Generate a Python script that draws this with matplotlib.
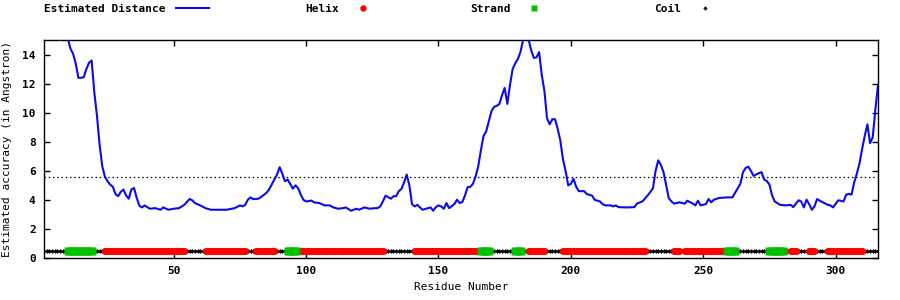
import matplotlib
matplotlib.use("Agg")
import matplotlib.pyplot as plt
from matplotlib.lines import Line2D
import numpy as np

# estimated distance per residue
residue = [1, 4, 7, 9, 10, 11, 12, 13, 14, 15, 16, 17, 18, 19, 20, 21, 22, 23, 24, 25,
           26, 27, 28, 29, 30, 31, 32, 33, 34, 35, 36, 37, 38, 39, 41, 43, 45, 46, 48, 50,
           52, 54, 56, 57, 58, 60, 62, 64, 66, 70, 73, 75, 76, 77, 78, 79, 80, 82, 83, 85,
           86, 87, 88, 89, 90, 91, 92, 93, 94, 95, 96, 97, 98, 99, 100, 102, 103, 105, 107, 109,
           110, 112, 114, 115, 117, 119, 120, 122, 124, 126, 127, 128, 129, 130, 132, 133, 134, 135, 136, 137,
           138, 139, 140, 141, 142, 143, 144, 146, 147, 148, 149, 150, 151, 152, 153, 154, 156, 157, 158, 159,
           160, 161, 162, 163, 164, 165, 166, 167, 168, 169, 170, 171, 172, 173, 174, 175, 176, 177, 178, 179,
           180, 181, 182, 183, 184, 185, 186, 187, 188, 189, 190, 191, 192, 193, 194, 195, 196, 197, 198, 199,
           200, 201, 202, 203, 205, 206, 208, 209, 211, 212, 213, 215, 216, 217, 218, 221, 224, 225, 227, 229,
           231, 232, 233, 234, 235, 236, 237, 238, 239, 241, 243, 244, 246, 247, 248, 249, 251, 252, 253, 254,
           256, 259, 261, 263, 264, 265, 266, 267, 268, 269, 270, 272, 273, 274, 275, 276, 277, 279, 281, 283,
           284, 286, 287, 288, 289, 290, 291, 292, 293, 294, 295, 297, 298, 299, 301, 303, 304, 305, 306, 307,
           308, 309, 310, 311, 312, 313, 314, 315, 316]
distance = [16.5, 15.8, 15.0, 15.6, 15.1, 14.4, 14.05, 13.36, 12.4, 12.4, 12.44, 13.0, 13.43, 13.59, 11.4, 9.8, 7.8, 6.32, 5.6, 5.28,
            5.05, 4.9, 4.4, 4.25, 4.55, 4.71, 4.3, 4.08, 4.71, 4.82, 4.15, 3.6, 3.48, 3.62, 3.39, 3.43, 3.32, 3.48, 3.32, 3.39,
            3.43, 3.66, 4.06, 3.97, 3.78, 3.62, 3.43, 3.32, 3.32, 3.32, 3.43, 3.62, 3.55, 3.66, 4.01, 4.17, 4.05, 4.08, 4.2, 4.48,
            4.71, 5.05, 5.4, 5.74, 6.25, 5.8, 5.28, 5.4, 5.1, 4.77, 5.0, 4.8, 4.35, 4.0, 3.89, 3.95, 3.83, 3.78, 3.62, 3.62,
            3.5, 3.39, 3.43, 3.48, 3.25, 3.39, 3.32, 3.48, 3.39, 3.43, 3.43, 3.55, 3.89, 4.29, 4.08, 4.25, 4.25, 4.6, 4.75, 5.2,
            5.74, 5.0, 3.7, 3.55, 3.66, 3.48, 3.32, 3.43, 3.48, 3.25, 3.5, 3.62, 3.55, 3.39, 3.78, 3.43, 3.71, 4.01, 3.78, 3.85,
            4.3, 4.87, 4.9, 5.1, 5.6, 6.3, 7.4, 8.4, 8.7, 9.4, 10.1, 10.4, 10.47, 10.6, 11.2, 11.7, 10.6, 11.9, 13.0, 13.4,
            13.7, 14.2, 15.05, 15.3, 15.05, 14.3, 13.77, 13.8, 14.17, 12.6, 11.5, 9.6, 9.2, 9.55, 9.55, 8.9, 8.1, 6.8, 6.0, 5.0,
            5.1, 5.45, 4.9, 4.6, 4.6, 4.4, 4.29, 4.0, 3.89, 3.7, 3.62, 3.62, 3.55, 3.62, 3.5, 3.48, 3.5, 3.75, 3.89, 4.3,
            4.8, 6.0, 6.72, 6.4, 5.9, 5.0, 4.1, 3.89, 3.74, 3.83, 3.74, 3.94, 3.75, 3.62, 3.94, 3.62, 3.71, 4.06, 3.83, 4.01,
            4.13, 4.17, 4.17, 4.8, 5.1, 5.9, 6.2, 6.28, 6.0, 5.65, 5.75, 5.91, 5.4, 5.3, 5.05, 4.3, 3.89, 3.66, 3.62, 3.66,
            3.5, 3.97, 3.89, 3.48, 4.01, 3.71, 3.32, 3.55, 4.06, 3.94, 3.85, 3.66, 3.62, 3.48, 3.97, 3.89, 4.36, 4.41, 4.36, 5.2,
            5.8, 6.5, 7.5, 8.4, 9.2, 7.9, 8.3, 10.2, 11.9]

threshold = 5.6
ss_level = 0.5

# secondary structure segments: H helix, E strand, C coil
ss_start = [1, 10, 20, 24, 55, 62, 78, 81, 89, 93, 97, 130, 141, 166, 170, 179, 182, 184,
            191, 197, 229, 239, 242, 243, 259, 263, 275, 281, 282, 283, 286, 290, 293, 297, 311]
ss_end = [9, 19, 23, 54, 61, 77, 80, 88, 92, 96, 129, 140, 165, 169, 178, 181, 183, 190,
          196, 228, 238, 241, 242, 258, 262, 274, 280, 281, 282, 285, 289, 292, 296, 310, 316]
ss_type = ["C", "E", "C", "H", "C", "H", "C", "H", "C", "E", "H", "C", "H", "E", "C", "E", "C", "H",
           "C", "H", "C", "H", "C", "H", "E", "C", "E", "H", "C", "H", "C", "H", "C", "H", "C"]

x_ticks = [50, 100, 150, 200, 250, 300]
y_ticks = [0, 2, 4, 6, 8, 10, 12, 14]

plt.rcParams["font.family"] = "DejaVu Sans Mono"
plt.rcParams["font.weight"] = "bold"
plt.rcParams["font.size"] = 8

fig = plt.figure(figsize=(9, 3), dpi=100)
ax = fig.add_axes([44 / 900, 42 / 300, 834 / 900, 218 / 300])

ax.plot(residue, distance, color="#0a0af0", lw=1.5, zorder=3)
ax.axhline(threshold, color="black", lw=0.9, ls=(0, (1.2, 2.2)), zorder=2)

groups = {t: [] for t in "HEC"}
for s, e, t in zip(ss_start, ss_end, ss_type):
    groups[t].extend(range(s, e + 1))

styles = {
    "C": dict(marker="D", color="black", ms=2.4, zorder=4),
    "H": dict(marker="o", color="#ff0000", ms=5.2, zorder=5),
    "E": dict(marker="s", color="#00c000", ms=5.4, zorder=6),
}
for t in "CHE":
    xs = np.array(groups[t])
    ax.plot(xs, np.full(len(xs), ss_level), ls="none", mec="none", **styles[t])

ax.set_xlim(1, 316)
ax.set_ylim(0, 15)
ax.set_xticks(x_ticks)
ax.set_yticks(y_ticks)
ax.tick_params(direction="in", length=4, width=1, top=True, right=True, pad=6)
for sp in ax.spines.values():
    sp.set_linewidth(1)
ax.set_xlabel("Residue Number", labelpad=4)
ax.set_ylabel("Estimated accuracy (in Angstron)", labelpad=7)

# key along the top, gnuplot style (label then sample)
fig.text(44 / 900, 1 - 9 / 300, "Estimated Distance", ha="left", va="center")
fig.add_artist(Line2D([176 / 900, 209 / 900], [1 - 8 / 300] * 2, color="#0a0af0", lw=1.5))
fig.text(305 / 900, 1 - 9 / 300, "Helix", ha="left", va="center")
fig.add_artist(Line2D([363 / 900], [1 - 8 / 300], marker="o", color="#ff0000", ms=4.6, mec="none"))
fig.text(470 / 900, 1 - 9 / 300, "Strand", ha="left", va="center")
fig.add_artist(Line2D([534 / 900], [1 - 8 / 300], marker="s", color="#00c000", ms=5.0, mec="none"))
fig.text(654 / 900, 1 - 9 / 300, "Coil", ha="left", va="center")
fig.add_artist(Line2D([705 / 900], [1 - 8 / 300], marker="D", color="black", ms=2.2, mec="none"))

fig.savefig("out.png", dpi=100)
